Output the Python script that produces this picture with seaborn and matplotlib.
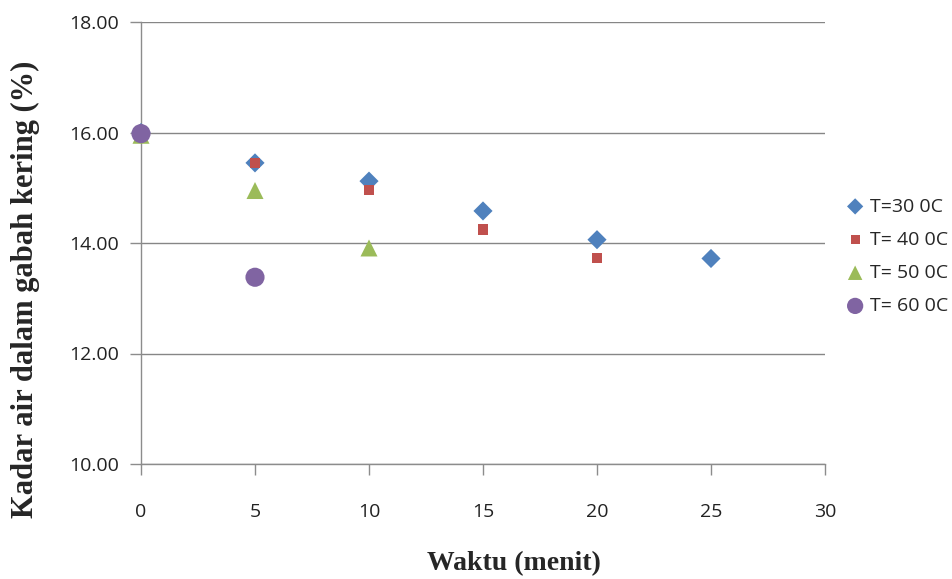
import numpy as np
import pandas as pd
import matplotlib
matplotlib.use("Agg")
import matplotlib.pyplot as plt
import seaborn as sns

# Moisture content of dried paddy over drying time at several temperatures
series_names = ["T=30 0C", "T= 40 0C", "T= 50 0C", "T= 60 0C"]
t30_x = [0, 5, 10, 15, 20, 25]
t30_y = [16.00, 15.45, 15.12, 14.58, 14.06, 13.72]
t40_x = [0, 5, 10, 15, 20]
t40_y = [16.00, 15.45, 14.96, 14.25, 13.73]
t50_x = [0, 5, 10]
t50_y = [15.95, 14.95, 13.91]
t60_x = [0, 5]
t60_y = [15.98, 13.38]

x_ticks = [0, 5, 10, 15, 20, 25, 30]
y_ticks = [10, 12, 14, 16, 18]

colors = ["#4F81BD", "#C0504D", "#9BBB59", "#8064A2"]
markers = ["D", "s", "^", "o"]
sizes = [95, 60, 150, 190]

frames = []
for name, xs, ys in zip(series_names, [t30_x, t40_x, t50_x, t60_x],
                        [t30_y, t40_y, t50_y, t60_y]):
    frames.append(pd.DataFrame({"waktu": xs, "kadar": ys, "seri": name}))
df = pd.concat(frames, ignore_index=True)

sns.set_style("white")
fig = plt.figure(figsize=(9.53, 5.79), dpi=100)
ax = fig.add_axes([141 / 953, 1 - 464 / 579, (825 - 141) / 953, (464 - 22) / 579])

for name, c, m, s in zip(series_names, colors, markers, sizes):
    sub = df[df["seri"] == name]
    sns.scatterplot(data=sub, x="waktu", y="kadar", color=c, marker=m, s=s,
                    edgecolor="none", ax=ax, label=name, zorder=3, clip_on=False)

ax.set_xlim(0, 30)
ax.set_ylim(10, 18)
ax.set_xticks(x_ticks)
ax.set_yticks(y_ticks)
ax.set_xticklabels([str(v) for v in x_ticks])
ax.set_yticklabels([f"{v:.2f}" for v in y_ticks])
ax.yaxis.grid(True, color="#868686", linewidth=1.0)
ax.xaxis.grid(False)
ax.set_axisbelow(True)

grey = "#8C8C8C"
for side in ["top", "right"]:
    ax.spines[side].set_visible(False)
for side in ["left", "bottom"]:
    ax.spines[side].set_visible(True)
    ax.spines[side].set_color(grey)
    ax.spines[side].set_linewidth(1.0)

ax.tick_params(axis="y", which="both", left=True, length=8, width=1.0, color=grey,
               labelsize=14, labelcolor="#222222", pad=8)
ax.tick_params(axis="x", which="both", bottom=True, length=8, width=1.0, color=grey,
               labelsize=14, labelcolor="#222222", pad=20)
for lab in ax.get_xticklabels() + ax.get_yticklabels():
    lab.set_family("Open Sans")

ax.set_xlabel("Waktu (menit)", fontsize=20, fontweight="bold",
              family="Liberation Serif")
ax.xaxis.set_label_coords(0.545, -0.197)
ax.set_ylabel("Kadar air dalam gabah kering (%)", fontsize=22, fontweight="bold",
              family="Liberation Serif")
ax.yaxis.set_label_coords(-0.148, 0.395)

leg = ax.legend(loc="center left", bbox_to_anchor=(1.0, 0.47), frameon=False,
                prop={"family": "Open Sans", "size": 14}, handletextpad=0.1,
                labelspacing=0.78, markerscale=0.85, handlelength=1.3)

fig.savefig("out.png", dpi=100)
